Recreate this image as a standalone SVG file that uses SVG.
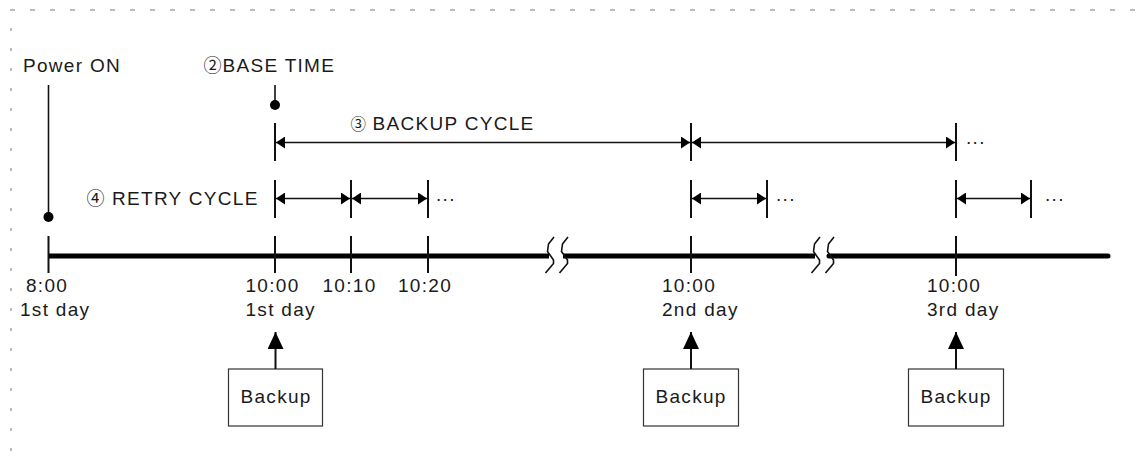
<svg xmlns="http://www.w3.org/2000/svg" width="1138" height="462" viewBox="0 0 1138 462">
  <defs>
    <style>
      .txt { font-family: "Liberation Sans", Arial, "Noto Sans CJK JP", sans-serif; font-size: 19px; letter-spacing: 1.3px; fill: #1a1a1a; }
      .num { font-family: "Noto Sans CJK JP", "Liberation Sans", sans-serif; letter-spacing: 0; }
      .tick { stroke: #111; stroke-width: 2; fill: none; }
      .thin { stroke: #111; stroke-width: 1.6; fill: none; }
      .dim { stroke: #111; stroke-width: 1.7; fill: none; marker-start: url(#head); marker-end: url(#head); }
      .up { stroke: #111; stroke-width: 2; fill: none; marker-end: url(#upHead); }
      .axis { stroke: #000; stroke-width: 5; fill: none; }
      .brk { stroke: #111; stroke-width: 1.6; fill: none; stroke-linejoin: round; }
      .box { fill: #fff; stroke: #333; stroke-width: 1.2; }
      .dot { fill: #000; }
      .frame { stroke: #7a7a7a; stroke-width: 1; fill: none; }
    </style>
    <marker id="head" viewBox="0 0 9 12" refX="9" refY="6" markerWidth="9" markerHeight="12" markerUnits="userSpaceOnUse" orient="auto-start-reverse">
      <path d="M0,0 L9,6 L0,12 Z" fill="#000"/>
    </marker>
    <marker id="upHead" viewBox="0 0 17 16" refX="17" refY="8" markerWidth="17" markerHeight="16" markerUnits="userSpaceOnUse" orient="auto">
      <path d="M0,0 L17,8 L0,16 Z" fill="#000"/>
    </marker>
  </defs>

  <!-- dashed frame, top and left edges -->
  <g id="frame">
    <line class="frame" x1="10" y1="10" x2="1138" y2="10" stroke-dasharray="5 15"/>
    <line class="frame" x1="11" y1="28" x2="11" y2="462" stroke-dasharray="3 17"/>
  </g>

  <!-- time axis with two break marks -->
  <g id="timeline">
    <line class="axis" x1="48" y1="256" x2="549" y2="256"/>
    <line class="axis" x1="563" y1="256" x2="815" y2="256"/>
    <path class="axis" d="M829,256 H1108" stroke-linecap="round"/>
    <path class="brk" d="M554,237 L548.5,244 L547.5,251.5 L553.5,260 L553.5,263.5 L545.5,273"/>
    <path class="brk" d="M568,237 L562.5,244 L561.5,251.5 L567.5,260 L567.5,263.5 L559.5,273"/>
    <path class="brk" d="M820,237 L814.5,244 L813.5,251.5 L819.5,260 L819.5,263.5 L811.5,273"/>
    <path class="brk" d="M834,237 L828.5,244 L827.5,251.5 L833.5,260 L833.5,263.5 L825.5,273"/>
  </g>

  <g id="power-on">
    <text class="txt" x="23" y="72">Power ON</text>
    <line class="thin" x1="48.5" y1="85" x2="48.5" y2="217"/>
    <circle class="dot" cx="48.5" cy="217" r="5"/>
    <line class="tick" x1="48.5" y1="236" x2="48.5" y2="273"/>
    <text class="txt" x="26" y="291.5">8:00</text>
    <text class="txt" x="20" y="315.5">1st day</text>
  </g>

  <g id="base-time">
    <text class="txt"><tspan class="num" x="203.5" y="72" font-size="18">②</tspan><tspan x="222.5" y="72">BASE TIME</tspan></text>
    <line class="thin" x1="275" y1="85" x2="275" y2="105"/>
    <circle class="dot" cx="275" cy="105" r="5"/>
  </g>

  <g id="t-1000-day1">
    <line class="tick" x1="275" y1="123" x2="275" y2="161"/>
    <line class="tick" x1="275" y1="180" x2="275" y2="218"/>
    <line class="tick" x1="275" y1="236" x2="275" y2="273"/>
    <text class="txt" x="245.5" y="291.5">10:00</text>
    <text class="txt" x="245.5" y="315.5">1st day</text>
  </g>

  <g id="t-1010">
    <line class="tick" x1="351" y1="180" x2="351" y2="218"/>
    <line class="tick" x1="351" y1="236" x2="351" y2="273"/>
    <text class="txt" x="322.5" y="291.5">10:10</text>
  </g>

  <g id="t-1020">
    <line class="tick" x1="428" y1="180" x2="428" y2="218"/>
    <line class="tick" x1="428" y1="236" x2="428" y2="273"/>
    <text class="txt" x="398" y="291.5">10:20</text>
    <text class="txt" x="436" y="201">...</text>
  </g>

  <g id="t-1000-day2">
    <line class="tick" x1="691" y1="123" x2="691" y2="161"/>
    <line class="tick" x1="691" y1="180" x2="691" y2="218"/>
    <line class="tick" x1="691" y1="236" x2="691" y2="273"/>
    <line class="tick" x1="767" y1="180" x2="767" y2="218"/>
    <text class="txt" x="776" y="201">...</text>
    <text class="txt" x="662" y="291.5">10:00</text>
    <text class="txt" x="662" y="315.5">2nd day</text>
  </g>

  <g id="t-1000-day3">
    <line class="tick" x1="956" y1="123" x2="956" y2="161"/>
    <text class="txt" x="966" y="144">...</text>
    <line class="tick" x1="956" y1="180" x2="956" y2="218"/>
    <line class="tick" x1="956" y1="236" x2="956" y2="276"/>
    <line class="tick" x1="1031" y1="180" x2="1031" y2="218"/>
    <text class="txt" x="1045" y="201">...</text>
    <text class="txt" x="927" y="291.5">10:00</text>
    <text class="txt" x="927" y="315.5">3rd day</text>
  </g>

  <g id="backup-cycle-label">
    <text class="txt"><tspan class="num" x="350.5" y="130" font-size="15.5">③</tspan><tspan x="372.5" y="129.5">BACKUP CYCLE</tspan></text>
  </g>

  <g id="retry-cycle-label">
    <text class="txt"><tspan class="num" x="86.5" y="205" font-size="18">④</tspan><tspan x="112" y="205">RETRY CYCLE</tspan></text>
  </g>

  <g id="backup-1">
    <rect class="box" x="228.5" y="369" width="94" height="57"/>
    <text class="txt" x="240.5" y="403">Backup</text>
  </g>
  <g id="backup-2">
    <rect class="box" x="643.5" y="369" width="95" height="57"/>
    <text class="txt" x="655.5" y="403">Backup</text>
  </g>
  <g id="backup-3">
    <rect class="box" x="908.5" y="369" width="95" height="57"/>
    <text class="txt" x="920.5" y="403">Backup</text>
  </g>

  <g id="connectors">
    <!-- backup cycle spans -->
    <line class="dim" x1="276" y1="142.5" x2="690" y2="142.5"/>
    <line class="dim" x1="692" y1="142.5" x2="955" y2="142.5"/>
    <!-- retry cycle spans -->
    <line class="dim" x1="276" y1="198.5" x2="350" y2="198.5"/>
    <line class="dim" x1="352" y1="198.5" x2="427" y2="198.5"/>
    <line class="dim" x1="692" y1="198.5" x2="766" y2="198.5"/>
    <line class="dim" x1="957" y1="198.5" x2="1030" y2="198.5"/>
    <!-- backup triggers -->
    <line class="up" x1="275.5" y1="369" x2="275.5" y2="332"/>
    <line class="up" x1="691" y1="369" x2="691" y2="332"/>
    <line class="up" x1="956" y1="369" x2="956" y2="332"/>
  </g>
</svg>
